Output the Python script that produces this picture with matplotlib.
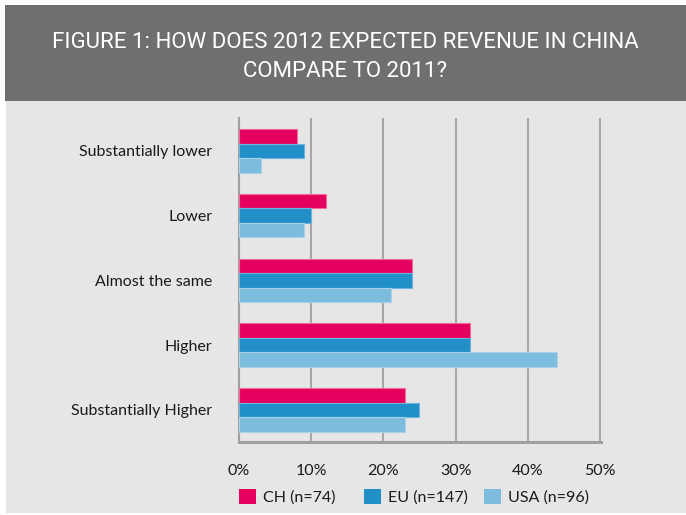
import matplotlib
matplotlib.use('Agg')
from matplotlib import pyplot as plt
from matplotlib.patches import Rectangle
import numpy as np

categories = ['Substantially lower', 'Lower', 'Almost the same', 'Higher', 'Substantially Higher']
ch_values = [8, 12, 24, 32, 23]
eu_values = [9, 10, 24, 32, 25]
usa_values = [3, 9, 21, 44, 23]
series_labels = ['CH (n=74)', 'EU (n=147)', 'USA (n=96)']
x_ticks = [0, 10, 20, 30, 40, 50]
title = 'FIGURE 1: HOW DOES 2012 EXPECTED REVENUE IN CHINA\nCOMPARE TO 2011?'

colors = ['#e6005e', '#2290c8', '#7dbcdc']
edges = ['#f06a9c', '#6cb3dd', '#a9d3ea']
bg = '#e6e6e6'
grid_c = '#a6a6a6'

W, H = 686, 515
fig = plt.figure(figsize=(W / 100, H / 100), dpi=100)
fig.patch.set_facecolor('white')

# background panel and title banner
fig.patches.append(Rectangle((6 / W, 2 / H), 1, 1 - 101 / H - 2 / H, transform=fig.transFigure,
                             facecolor=bg, edgecolor='none', zorder=0))
fig.patches.append(Rectangle((5 / W, 1 - 101 / H), 1, 96 / H, transform=fig.transFigure,
                             facecolor='#6f6f6f', edgecolor='none', zorder=0))
fig.text(345 / W, 1 - 57 / H, title, ha='center', va='center', color='white',
         fontsize=16, family=['Roboto', 'DejaVu Sans'], fontstretch='condensed',
         linespacing=1.5, zorder=3)

ax = fig.add_axes([239 / W, 1 - 442 / H, 362 / W, 324 / H])
ax.set_zorder(2)
ax.patch.set_alpha(0)

y = np.arange(len(categories))
h = 0.224
bars = []
for i, vals in enumerate([ch_values, eu_values, usa_values]):
    b = ax.barh(y + (i - 1) * h, vals, height=h, color=colors[i], edgecolor=edges[i],
                linewidth=0.8, label=series_labels[i], zorder=3)
    bars.append(b)

ax.set_xlim(0, 50.15)
ax.set_ylim(4.498, -0.51)
ax.set_yticks(y)
ax.set_yticklabels(categories)
ax.set_xticks(x_ticks)
ax.set_xticklabels([f'{t}%' for t in x_ticks])
ax.tick_params(axis='both', length=0, labelsize=11.5, colors='#1a1a1a')
ax.tick_params(axis='x', pad=16)
ax.tick_params(axis='y', pad=19)
for lbl in ax.get_xticklabels() + ax.get_yticklabels():
    lbl.set_family('Lato')

ax.xaxis.grid(True, color=grid_c, linewidth=1.5, zorder=1)
ax.set_axisbelow(True)
for s in ['top', 'right']:
    ax.spines[s].set_visible(False)
ax.spines['left'].set_color('#a0a0a0')
ax.spines['left'].set_linewidth(1.5)
ax.spines['bottom'].set_color('#a0a0a0')
ax.spines['bottom'].set_linewidth(2.2)

# legend entries sit at uneven spacing in the original, so one legend per entry
legend_x = [239, 364, 484]
for i in range(3):
    leg = fig.legend([bars[i]], [series_labels[i]], loc='center left',
                     bbox_to_anchor=(legend_x[i] / W, 1 - 497 / H), frameon=False,
                     borderpad=0, borderaxespad=0, handlelength=1.05, handleheight=1.05,
                     handletextpad=0.45, prop={'family': 'Lato', 'size': 11.5})
    leg.set_zorder(3)
    for t in leg.get_texts():
        t.set_color('#1a1a1a')
    for p in leg.legend_handles:
        p.set_edgecolor('none')

fig.savefig('out.png', dpi=100, facecolor=fig.get_facecolor())
